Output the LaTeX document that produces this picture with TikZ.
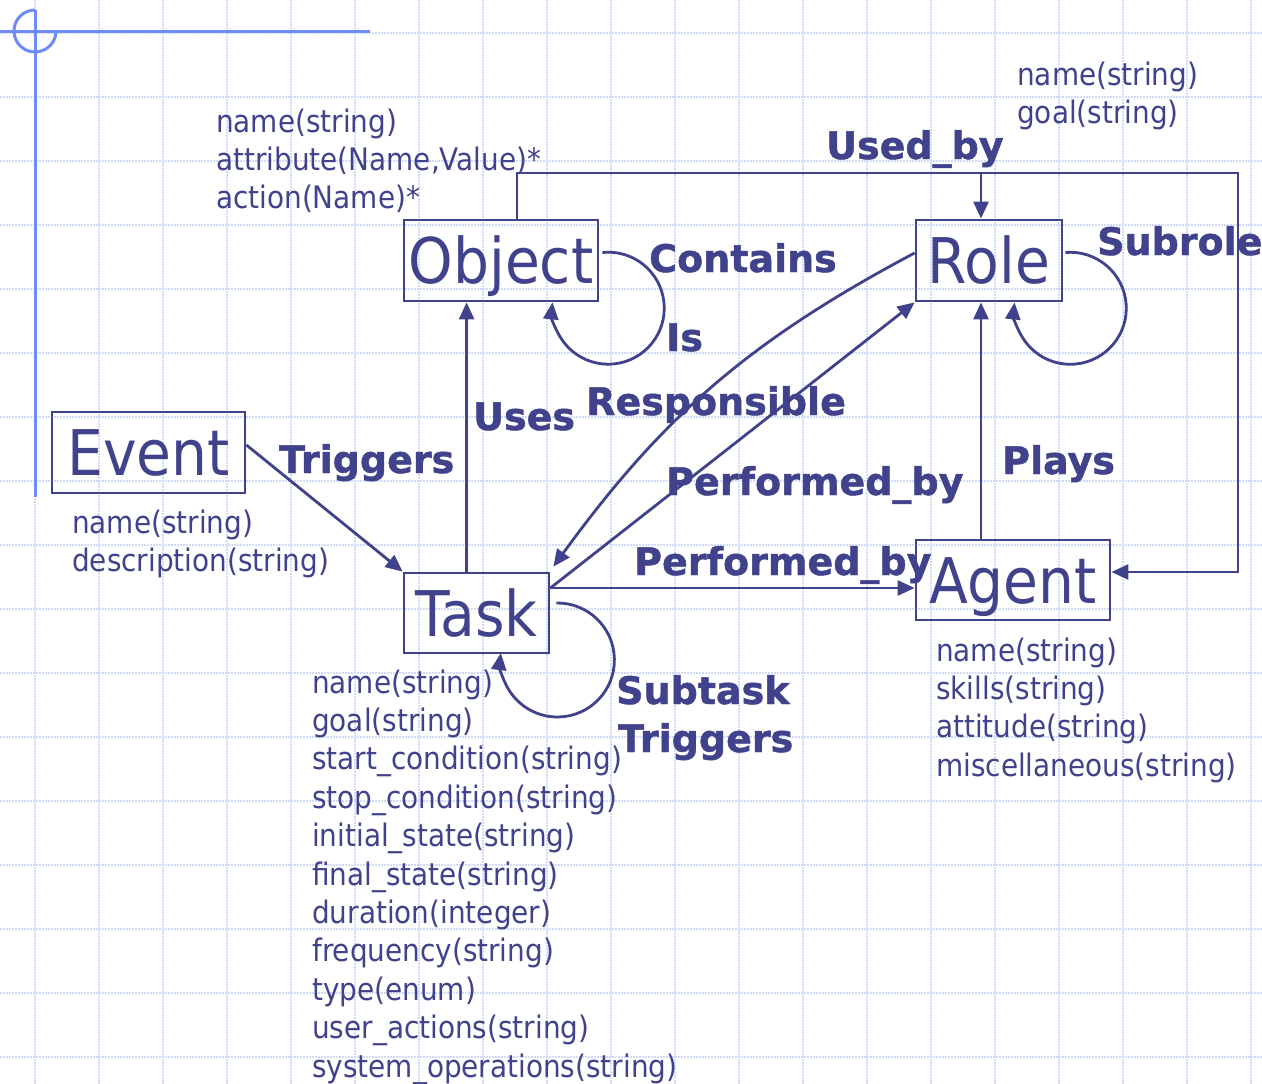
\documentclass[tikz,border=0pt]{standalone}
\usepackage{fontspec}
\setmainfont{DejaVu Sans}[FakeStretch=0.9]
\newfontfamily\lblfont{DejaVu Sans}[BoldFeatures={FakeBold=1.2}]
\usetikzlibrary{arrows.meta,calc}
\definecolor{ink}{RGB}{64,66,140}
\definecolor{deco}{RGB}{110,140,245}
\definecolor{gridc}{RGB}{208,219,252}

\begin{document}
\begin{tikzpicture}[x=1pt,y=-1pt,
    box/.style={draw=ink,line width=2.8pt,inner sep=0pt,text=ink,
      font=\fontsize{63}{70}\selectfont,text height=46pt,text depth=0pt},
    attr/.style={text=ink,inner sep=0pt,anchor=base west,font=\fontsize{31}{38}\selectfont},
    rel/.style={text=ink,inner sep=0pt,anchor=base west,
      font=\lblfont\bfseries\fontsize{38}{44}\selectfont},
    link/.style={draw=ink,line width=2.8pt},
    arr/.style={link,-{Triangle[length=17pt,width=15pt]}},
    gridline/.style={draw=gridc,line width=2.5pt,dash pattern=on 1.5pt off 1.5pt}]
    % Slide background
    \useasboundingbox (0,0) rectangle (1262,1084);
    \fill[white] (0,0) rectangle (1262,1084);
    \foreach \i in {0,...,19}
      \draw[gridline] (35+64*\i,0) -- (35+64*\i,1084);
    \foreach \j in {0,...,16}
      \draw[gridline] (0,33+64*\j) -- (1262,33+64*\j);
    \draw[deco,line width=3pt] (0,31) -- (370,31);
    \draw[deco,line width=3pt] (35,10) -- (35,497);
    \draw[deco,line width=3pt] (35,10) arc[start angle=270,end angle=0,radius=21];
    % Concepts
    \node[box,minimum width=194,minimum height=81] (object) at (501,260.5) {Object};
    \node[box,minimum width=146,minimum height=81] (role) at (989,260.5) {Role};
    \node[box,minimum width=193,minimum height=81] (event) at (148.5,452.5) {Event};
    \node[box,minimum width=145,minimum height=80] (task) at (476.5,613) {Task};
    \node[box,minimum width=194,minimum height=80] (agent) at (1013,580) {Agent};
    % Attributes
    \foreach \t [count=\i from 0] in {name(string),{attribute(Name,Value)*},action(Name)*}
      \node[attr] (objattr\i) at (216,132+38.2*\i) {\t};
    \foreach \t [count=\i from 0] in {name(string),goal(string)}
      \node[attr] (roleattr\i) at (1017,85+38.2*\i) {\t};
    \foreach \t [count=\i from 0] in {name(string),description(string)}
      \node[attr] (eventattr\i) at (72,533+38.2*\i) {\t};
    \foreach \t [count=\i from 0] in {name(string),skills(string),attitude(string),miscellaneous(string)}
      \node[attr] (agentattr\i) at (936,661+38.4*\i) {\t};
    \foreach \t [count=\i from 0] in {name(string),goal(string),start\_condition(string),
        stop\_condition(string),initial\_state(string),final\_state(string),duration(integer),
        frequency(string),type(enum),user\_actions(string),system\_operations(string)}
      \node[attr] (taskattr\i) at (312,693+38.4*\i) {\t};
    % Relations
    \coordinate (ubcorner) at (1238,173);
    \draw[arr] ([xshift=16pt]object.north) |- (ubcorner) |- ([yshift=8pt]agent.east);
    \draw[arr] ([xshift=-8pt]role.north |- ubcorner) -- ([xshift=-8pt]role.north);
    \draw[arr] ([yshift=7.5pt]event.east) -- (task.north west);
    \draw[arr] ([xshift=64pt]task.north west) -- ([xshift=64pt]task.north west |- object.south);
    \draw[arr] ([yshift=25pt]task.east) -- ([yshift=25pt]task.east -| agent.west);
    \draw[arr] ([yshift=25pt]task.east) -- (role.south west);
    \draw[arr] ([yshift=7.5pt]role.west) to[bend right=13] ([xshift=3pt,yshift=5pt]task.north east);
    \draw[arr] ([xshift=-8pt]role.south |- agent.north) -- ([xshift=-8pt]role.south);
    % Self loops
    \draw[arr] ([xshift=3pt,yshift=8pt]object.east) arc[start angle=-96,end angle=186,radius=56];
    \draw[arr] ([xshift=2pt,yshift=8pt]role.east) arc[start angle=-95,end angle=186,radius=56];
    \draw[arr] ([xshift=6pt,yshift=10pt]task.east) arc[start angle=-91,end angle=187,radius=57];
    % Relation names
    \node[rel] (usedby) at (826,159) {Used\_by};
    \node[rel] (subrole) at (1097,255) {Subrole};
    \node[rel] (contains) at (649,272) {Contains};
    \node[rel] (is) at (666,351) {Is};
    \node[rel] (uses) at (473,430) {Uses};
    \node[rel] (resp) at (586,415) {Responsible};
    \node[rel] (triggers) at (279,473) {Triggers};
    \node[rel] (perfby) at (666,495) {Performed\_by};
    \node[rel] (plays) at (1002,474) {Plays};
    \node[rel] (perfbyb) at (634,575) {Performed\_by};
    \node[rel] (subtask) at (616,704) {Subtask};
    \node[rel] (subtrig) at (618,752) {Triggers};
\end{tikzpicture}
\end{document}
